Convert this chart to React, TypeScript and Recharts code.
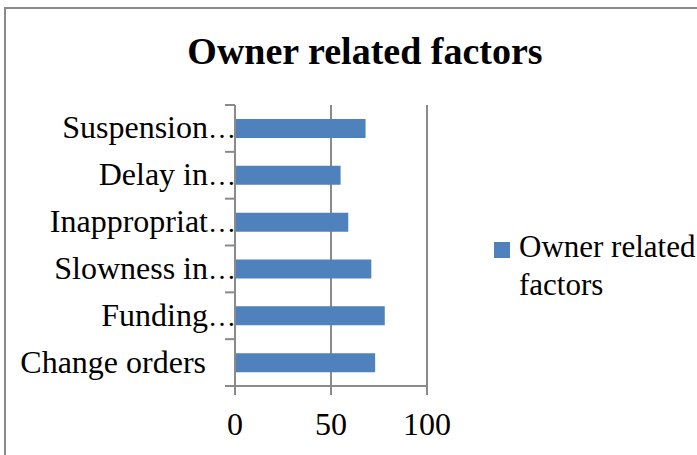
import { BarChart, Bar, XAxis, YAxis, CartesianGrid } from 'recharts';

const categories = [
  'Suspension…',
  'Delay in…',
  'Inappropriat…',
  'Slowness in…',
  'Funding…',
  'Change orders',
];
const values = [68, 55, 59, 71, 78, 73];
const xTicks = [0, 50, 100];
const seriesName = 'Owner related factors';
const legendLines = ['Owner related', 'factors'];

const data = categories.map((name, i) => ({ name, value: values[i] }));

const FONT = '"Liberation Serif", "Times New Roman", Times, "DejaVu Serif", serif';
const GRAY = '#8a8a8a';
const BLUE = '#4f81bd';

function CategoryTick(props: any) {
  const { x, y, payload, index } = props;
  const half = payload && payload.offset ? payload.offset : 23.4;
  const label: string = payload.value;
  const truncated = label.endsWith('…');
  // Excel squeezes the ellipsis a bit, so draw it slightly smaller
  return (
    <g>
      <line x1={x - 10} x2={x} y1={y - half} y2={y - half} stroke={GRAY} strokeWidth={2} />
      {index === categories.length - 1 && (
        <line x1={x - 10} x2={x} y1={y + half} y2={y + half} stroke={GRAY} strokeWidth={2} />
      )}
      <text
        x={truncated ? x + 1 : x - 29}
        y={y + 10}
        textAnchor="end"
        fontFamily={FONT}
        fontSize={32}
        fill="#000"
      >
        {truncated ? (
          <>
            <tspan>{label.slice(0, -1)}</tspan>
            <tspan fontSize={28}>…</tspan>
          </>
        ) : (
          label
        )}
      </text>
    </g>
  );
}

export default function App() {
  return (
    <div
      style={{
        position: 'fixed',
        left: 0,
        top: 0,
        width: 697,
        height: 455,
        background: '#fff',
        overflow: 'hidden',
      }}
    >
      <div
        style={{
          position: 'absolute',
          left: 4,
          top: 7,
          width: 720,
          height: 480,
          borderLeft: `2px solid ${GRAY}`,
          borderTop: `2px solid ${GRAY}`,
        }}
      />
      <div
        style={{
          position: 'absolute',
          left: 0,
          width: 730,
          top: 29,
          textAlign: 'center',
          fontFamily: FONT,
          fontWeight: 'bold',
          fontSize: 38,
          lineHeight: '44px',
          color: '#000',
        }}
      >
        {seriesName}
      </div>
      <div style={{ position: 'absolute', left: 0, top: 0 }}>
        <BarChart
          width={697}
          height={455}
          data={data}
          layout="vertical"
          margin={{ top: 105, right: 270, bottom: 0, left: 0 }}
        >
          <CartesianGrid horizontal={false} stroke={GRAY} strokeWidth={2} />
          <XAxis
            type="number"
            dataKey="value"
            domain={[0, 100]}
            ticks={xTicks}
            height={69}
            tickSize={9}
            tickMargin={17}
            axisLine={{ stroke: GRAY, strokeWidth: 2 }}
            tickLine={{ stroke: GRAY, strokeWidth: 2 }}
            tick={{ fontFamily: FONT, fontSize: 32, fill: '#000' }}
          />
          <YAxis
            type="category"
            dataKey="name"
            width={235}
            tickLine={false}
            tickSize={0}
            tickMargin={0}
            axisLine={{ stroke: GRAY, strokeWidth: 2 }}
            tick={<CategoryTick />}
            interval={0}
          />
          <Bar dataKey="value" name={seriesName} fill={BLUE} barSize={19} isAnimationActive={false} />
        </BarChart>
      </div>
      <div
        style={{
          position: 'absolute',
          left: 494,
          top: 228,
          fontFamily: FONT,
          fontSize: 31,
          color: '#000',
        }}
      >
        <div style={{ position: 'absolute', left: 0, top: 14, width: 16, height: 16, background: BLUE }} />
        <div style={{ position: 'absolute', left: 25, top: 0, lineHeight: '38px', whiteSpace: 'nowrap' }}>
          {legendLines[0]}
          <br />
          {legendLines[1]}
        </div>
      </div>
    </div>
  );
}
